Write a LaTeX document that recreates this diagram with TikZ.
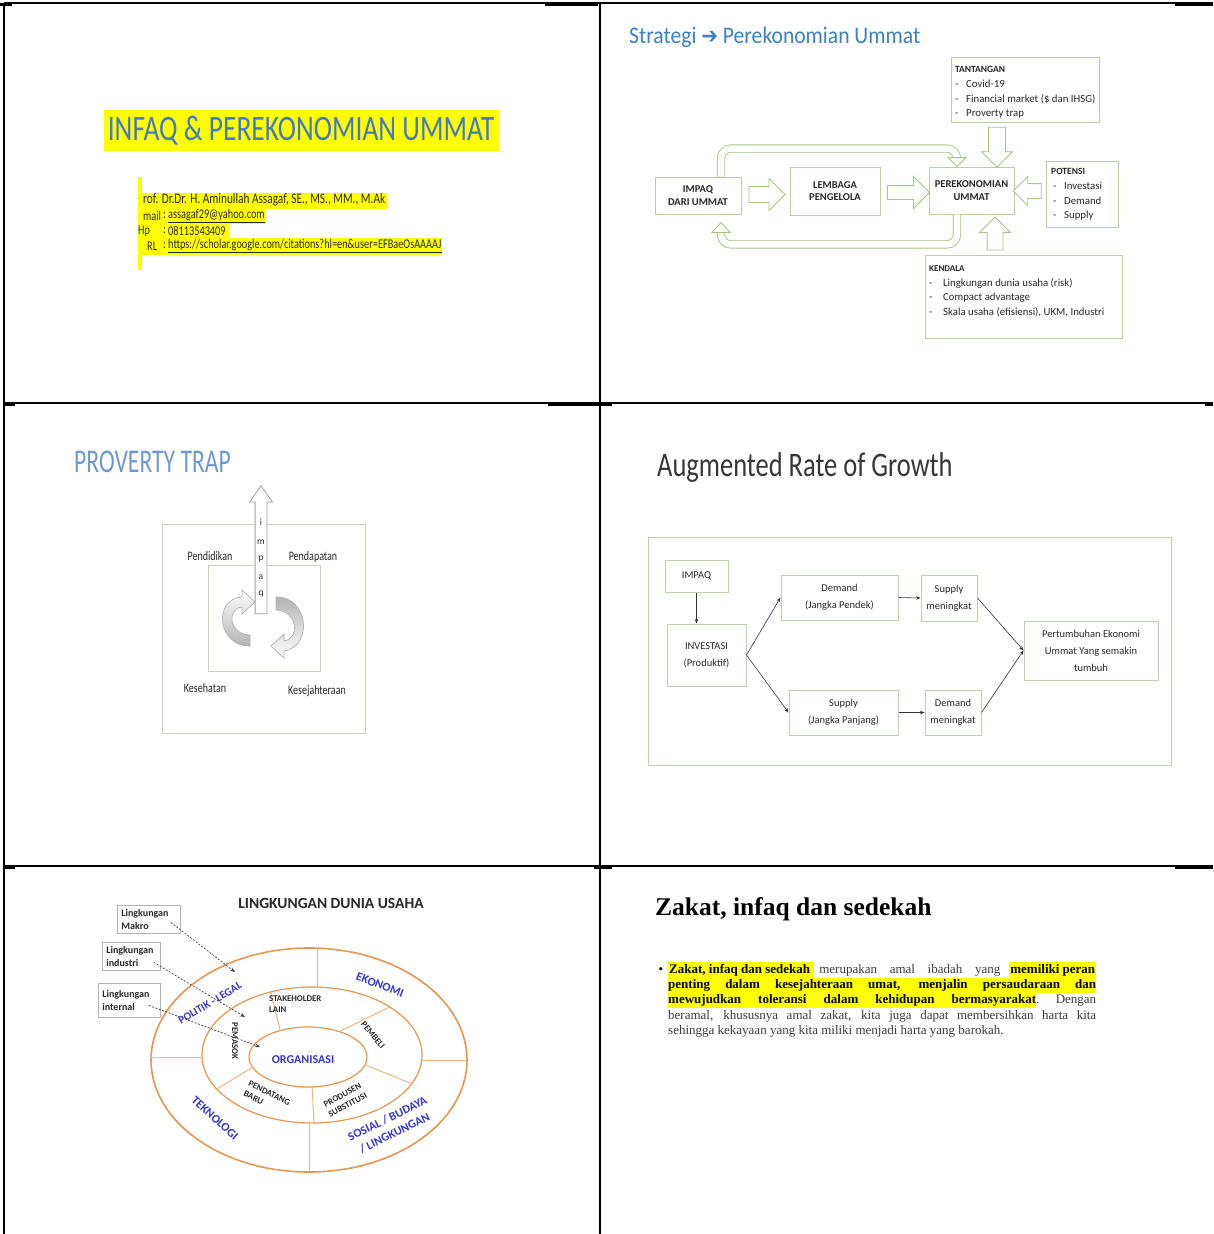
\documentclass[tikz,border=0pt]{standalone}
\usepackage{fontspec}
\setmainfont{Carlito}
\newfontfamily\tnr{Liberation Serif}
\newfontfamily\djv{DejaVu Sans}
\usetikzlibrary{shapes.arrows,arrows.meta,calc}
\definecolor{hly}{RGB}{255,255,0}
\definecolor{t1blue}{RGB}{70,120,195}
\definecolor{t2blue}{RGB}{62,128,196}
\definecolor{t3blue}{RGB}{112,152,208}
\definecolor{g2}{RGB}{185,208,165}
\definecolor{g2a}{RGB}{165,198,135}
\definecolor{g3}{RGB}{200,210,188}
\definecolor{g4}{RGB}{190,212,175}
\definecolor{orng}{RGB}{230,150,85}
\definecolor{orngl}{RGB}{236,185,140}
\definecolor{lblue}{RGB}{55,55,205}
\definecolor{txt}{RGB}{40,40,40}
\definecolor{txtsix}{RGB}{60,60,60}
\definecolor{dgray}{RGB}{55,55,55}
\newcommand\fs[2]{\fontsize{#1}{#2}\selectfont}
\newcommand\hlb[1]{{\setlength\fboxsep{1pt}\colorbox{hly}{\bfseries\color{black}\strut #1}}}
\begin{document}
\begin{tikzpicture}[x=1pt,y=-1pt,
  frame/.style={line width=1.5pt, black},
  sub/.style={font=\fs{10.3}{12}, inner sep=0pt, yscale=1.3, text=txt, anchor=west},
  gbox/.style={draw=g2, line width=0.9pt, fill=white, align=center, font=\fs{10.5}{12.5}\bfseries, text=txt, inner sep=1pt},
  barrow/.style={single arrow, draw=g2a, fill=white, line width=0.9pt, inner sep=0pt},
  band/.style={draw=g2a, double=white, double distance=6.5pt, line width=0.9pt, rounded corners=10pt},
  headtri/.style={draw=g2a, fill=white, line width=0.9pt},
  lst/.style={align=left, inner sep=0pt, font=\fs{10.8}{14.6}, text=txt, anchor=north west},
  p3box/.style={draw=g3, line width=1pt, anchor=north west},
  p3txt/.style={font=\fs{10}{12}, text=txt, yscale=1.3, inner sep=0pt},
  p4box/.style={draw=g4, line width=1pt, fill=white, align=center, font=\fs{10.5}{17}, text=txt, inner sep=1pt},
  p4arr/.style={-{Stealth[length=4.5pt,width=3.5pt]}, line width=0.6pt, black!80},
  bluelab/.style={font=\fs{12}{14}\bfseries, text=lblue, inner sep=0pt},
  blklab/.style={font=\fs{8.8}{11}\bfseries, text=txt, inner sep=0pt, align=center},
  lbox/.style={draw=gray!60, line width=0.8pt, fill=white, font=\fs{10}{13}\bfseries, text=txt, align=left, inner xsep=4pt, inner ysep=2pt, anchor=north west},
  darr/.style={dash pattern=on 2pt off 1.5pt, -{Stealth[length=5pt,width=4pt]}, line width=0.7pt, gray!50!black},
  ptxt/.style={font=\tnr\fs{13}{15}, inner sep=0pt, text=txtsix, anchor=base west}]
\useasboundingbox (0,0) rectangle (1213,1234);
\fill[white] (0,0) rectangle (1213,1234);

% ---------- table frame ----------
\draw[frame] (4,3) -- (1213,3);
\draw[frame] (4,403) -- (1213,403);
\draw[frame] (4,866) -- (1213,866);
\draw[frame] (4,3) -- (4,1234);
\draw[frame] (600,3) -- (600,1234);
\draw[line width=3pt] (545,4.5) -- (598,4.5) (1175,4.5) -- (1213,4.5) (0,4.5) -- (12,4.5);
\draw[line width=3pt] (4,404.5) -- (15,404.5) (548,404.5) -- (612,404.5) (1205,404.5) -- (1213,404.5);
\draw[line width=3pt] (4,867.5) -- (15,867.5) (594,867.5) -- (612,867.5) (1175,867.5) -- (1213,867.5);

% ---------- panel 1 ----------
\fill[hly] (104,110) rectangle (499,151);
\node[font=\fs{27.5}{30}, text=t1blue, yscale=1.3, inner sep=0pt] (t1) at (301,131) {INFAQ \& PEREKONOMIAN UMMAT};
\fill[hly] (138,177) rectangle (142,270);
\fill[hly] (141,193) rectangle (387,209);
\fill[hly] (141,209) rectangle (266,224);
\fill[hly] (141,224) rectangle (229,238);
\fill[hly] (141,238) rectangle (442,255);
\node[sub, font=\fs{11.3}{12}] (s1) at (143,200) {rof. Dr.Dr. H. Aminullah Assagaf, SE., MS., MM., M.Ak};
\node[sub] (s2a) at (143,216) {mail};
\node[sub] (s2b) at (163,216) {:};
\node[sub] (s2c) at (168,216) {\underline{assagaf29@yahoo.com}};
\node[sub] (s3a) at (138,231) {Hp};
\node[sub] (s3b) at (163,231) {:};
\node[sub] (s3c) at (168,231) {08113543409};
\node[sub] (s4a) at (147,246) {RL};
\node[sub] (s4b) at (163,246) {:};
\node[sub] (s4c) at (168,246) {\underline{https://scholar.google.com/citations?hl=en\&user=EFBaeOsAAAAJ}};

% ---------- panel 2 ----------
\node[font=\fs{21.6}{24}, text=t2blue, anchor=west, yscale=1.1, inner sep=0pt] (t2) at (629,37) {Strategi {\djv\fs{20}{20}➔} Perekonomian Ummat};
\node[gbox, minimum width=86pt, minimum height=37pt] (impaq) at (698,195.5) {IMPAQ\\DARI UMMAT};
\node[gbox, minimum width=90pt, minimum height=48pt] (lembaga) at (835,191) {LEMBAGA\\PENGELOLA};
\node[gbox, minimum width=85pt, minimum height=47pt] (perek) at (971.5,190.5) {PEREKONOMIAN\\UMMAT};
\node[draw=g2, line width=0.9pt, anchor=north west, minimum width=148pt, minimum height=65pt, inner sep=0pt] (tant) at (951,57) {};
\node[lst] (tantt) at (955,66.5) {{\fs{9.5}{14.6}\bfseries TANTANGAN}\\\makebox[11pt][l]{-}Covid-19\\\makebox[11pt][l]{-}Financial market (\$ dan IHSG)\\\makebox[11pt][l]{-}Proverty trap};
\node[draw=g2, line width=0.9pt, anchor=north west, minimum width=72pt, minimum height=66pt, inner sep=0pt] (pot) at (1046,161) {};
\node[lst] (pott) at (1051,168.5) {{\fs{9.5}{14.6}\bfseries POTENSI}\\\makebox[13pt][l]{\,-}Investasi\\\makebox[13pt][l]{\,-}Demand\\\makebox[13pt][l]{\,-}Supply};
\node[draw=g2, line width=0.9pt, anchor=north west, minimum width=197pt, minimum height=83pt, inner sep=0pt] (kend) at (925,255) {};
\node[lst] (kendt) at (929,265.5) {{\fs{9}{14.8}\bfseries KENDALA}\\\makebox[14pt][l]{-}Lingkungan dunia usaha (risk)\\\makebox[14pt][l]{-}Compact advantage\\\makebox[14pt][l]{-}Skala usaha (efisiensi), UKM, Industri};
% block arrows
\node[barrow, inner ysep=7.5pt, single arrow head extend=8pt, minimum height=36pt, minimum width=31pt] (a1) at (763,194.5) {};
\node[barrow, inner ysep=6.5pt, single arrow head extend=9pt, minimum height=42pt, minimum width=31pt] (a2) at (905,192.5) {};
\node[barrow, rotate=-90, inner ysep=8pt, single arrow head extend=7pt, minimum height=40pt, minimum width=30pt] (a3) at (997,143) {};
\node[barrow, rotate=180, inner ysep=7pt, single arrow head extend=7pt, minimum height=28pt, minimum width=28pt] (a4) at (1031,191) {};
\node[barrow, rotate=90, inner ysep=7.5pt, single arrow head extend=7.5pt, minimum height=33pt, minimum width=30pt] (a5) at (995,237.5) {};
% looping bands
\draw[band] ($(impaq.north)+(23,0)$) |- ($(perek.north)+(-14.5,-18)$) -- ($(perek.north)+(-14.5,-9)$);
\draw[headtri] ($(perek.north)+(-23.5,-9)$) -- ($(perek.north)+(-5.5,-9)$) -- ($(perek.north)+(-14.5,0)$) -- cycle;
\draw[band] ($(perek.south)+(-14.5,0)$) |- ($(impaq.south)+(23,30)$) -- ($(impaq.south)+(23,18)$);
\draw[headtri] ($(impaq.south)+(14,18)$) -- ($(impaq.south)+(32,18)$) -- ($(impaq.south)+(23,8)$) -- cycle;

% ---------- panel 3 ----------
\node[font=\fs{23.7}{26}, text=t3blue, anchor=west, yscale=1.4, inner sep=0pt] (t3) at (74,462) {PROVERTY TRAP};
\node[p3box, minimum width=203pt, minimum height=209pt] (outer3) at (162,524) {};
\node[p3box, minimum width=112pt, minimum height=106pt] (inner3) at (208,565) {};
\node[p3txt] (pend) at (210,556) {Pendidikan};
\node[p3txt] (penda) at (313,557) {Pendapatan};
\node[p3txt] (kes) at (205,688) {Kesehatan};
\node[p3txt] (kesj) at (317,691) {Kesejahteraan};
\path[draw=gray!60, line width=0.7pt, top color=white, bottom color=gray!60]
  (250,646) .. controls (218,647) and (212,599) .. (242,597) -- (242,590) -- (255,602) -- (242,614) -- (242,607)
  .. controls (227,609) and (228,634) .. (250,635) -- cycle;
\path[draw=gray!60, line width=0.7pt, top color=gray!60, bottom color=white]
  (276,597) .. controls (308,596) and (314,646) .. (284,651) -- (284,658) -- (271,646) -- (284,634) -- (284,641)
  .. controls (300,639) and (298,611) .. (276,610) -- cycle;
\node[single arrow, draw=gray!75, fill=white, line width=0.8pt, rotate=90, inner sep=0pt, inner ysep=5.5pt, single arrow head extend=5.5pt, single arrow tip angle=70, minimum height=128pt, minimum width=22pt] (up3) at (261,554) {};
\node[font=\fs{9.5}{10}, text=txt, inner sep=0pt] (li) at (261,522) {i};
\node[font=\fs{9.5}{10}, text=txt, inner sep=0pt] (lm) at (261,542) {m};
\node[font=\fs{9.5}{10}, text=txt, inner sep=0pt] (lp) at (261,559) {p};
\node[font=\fs{9.5}{10}, text=txt, inner sep=0pt] (la) at (261,577) {a};
\node[font=\fs{9.5}{10}, text=txt, inner sep=0pt] (lq) at (261,594) {q};

% ---------- panel 4 ----------
\node[font=\fs{26.5}{30}, text=dgray, anchor=west, yscale=1.3, inner sep=0pt] (t4) at (657,467) {Augmented Rate of Growth};
\node[draw=g4, line width=1pt, anchor=north west, minimum width=523pt, minimum height=228pt, inner sep=0pt] (o4) at (648,537) {};
\node[p4box, minimum width=63pt, minimum height=32pt] (imp4) at (696.5,576) {IMPAQ};
\node[p4box, minimum width=79pt, minimum height=62pt] (inv) at (706.5,655) {INVESTASI\\(Produktif)};
\node[p4box, minimum width=117pt, minimum height=45pt] (dem) at (839.5,597.5) {Demand\\(Jangka Pendek)};
\node[p4box, minimum width=56pt, minimum height=46pt] (supm) at (949,598) {Supply\\meningkat};
\node[p4box, minimum width=109pt, minimum height=45pt] (sup) at (843.5,712.5) {Supply\\(Jangka Panjang)};
\node[p4box, minimum width=56pt, minimum height=45pt] (demm) at (953,712.5) {Demand\\meningkat};
\node[p4box, minimum width=134pt, minimum height=59pt] (pert) at (1091,650.5) {Pertumbuhan Ekonomi\\Ummat Yang semakin\\tumbuh};
\draw[p4arr] (imp4.south) -- (imp4.south |- inv.north);
\draw[p4arr] (inv.east) -- (dem.west);
\draw[p4arr] (inv.east) -- (sup.west);
\draw[p4arr] (dem.east) -- (supm.west);
\draw[p4arr] (sup.east) -- (demm.west);
\draw[p4arr] (supm.east) -- (pert.west);
\draw[p4arr] (demm.east) -- (pert.west);

% ---------- panel 5 ----------
\node[font=\fs{15.5}{18}\bfseries, text=txt, inner sep=0pt] (t5) at (331,903) {LINGKUNGAN DUNIA USAHA};
\coordinate (co) at (309,1060);
\coordinate (cm) at (312,1055);
\coordinate (ci) at (308,1057);
\draw[orng, line width=1.6pt] (co) ellipse [x radius=158, y radius=112];
\draw[orng, line width=1.2pt] (cm) ellipse [x radius=110, y radius=68];
\draw[orng, line width=1.2pt] (ci) ellipse [x radius=59, y radius=30];
\begin{scope}[orngl, line width=1pt]
\draw (317,948.1) -- (317,987.1);
\draw (309,1123) -- (309,1172);
\draw (151,1057) -- (202,1057);
\draw (421.7,1060) -- (467,1060);
\draw ($(ci)+(-118:59 and 30)$) -- ($(cm)+(-112:110 and 68)$);
\draw ($(ci)+(-58:59 and 30)$) -- ($(cm)+(-45:110 and 68)$);
\draw ($(ci)+(15:59 and 30)$) -- ($(cm)+(25:110 and 68)$);
\draw ($(ci)+(86:59 and 30)$) -- ($(cm)+(89:110 and 68)$);
\draw ($(ci)+(160:59 and 30)$) -- ($(cm)+(150:110 and 68)$);
\end{scope}
\node[bluelab, rotate=31, font=\fs{11}{13}\bfseries] (pol) at (210,1003) {POLITIK - LEGAL};
\node[bluelab, rotate=-21] (eko) at (380,985) {EKONOMI};
\node[bluelab, rotate=-42] (tek) at (215,1118) {TEKNOLOGI};
\node[bluelab, rotate=26, align=center, font=\fs{12}{16}\bfseries] (sos) at (391,1126) {SOSIAL / BUDAYA\\/ LINGKUNGAN};
\node[bluelab] (org) at (303,1060) {ORGANISASI};
\node[blklab, align=left, anchor=north west] (stk) at (269,996) {STAKEHOLDER\\LAIN};
\node[blklab, rotate=-50] (pemb) at (373,1035) {PEMBELI};
\node[blklab, rotate=-90] (pems) at (235,1041) {PEMASOK};
\node[blklab, rotate=-26, align=left] (pdt) at (267,1098) {PENDATANG\\BARU};
\node[blklab, rotate=28] (prd) at (345,1100) {PRODUSEN\\SUBSTITUSI};
\node[lbox, text width=55pt, minimum height=28pt] (mak) at (117,905) {Lingkungan\\Makro};
\node[lbox, text width=50pt, minimum height=28pt] (ind) at (102,942) {Lingkungan\\industri};
\node[lbox, text width=54pt, minimum height=34pt] (int) at (98,983) {Lingkungan\\internal};
\coordinate (pmak) at (235,972);
\coordinate (pind) at (245,1017);
\coordinate (pint) at (260,1047);
\draw[darr] ($(mak.east)+(-10,3)$) -- (pmak);
\draw[darr] ($(ind.east)+(-7,6)$) -- (pind);
\draw[darr] ($(int.east)+(-12,5)$) -- (pint);

% ---------- panel 6 ----------
\node[font=\tnr\fs{25.5}{30}\bfseries, text=black, anchor=base west, inner sep=0pt] (t6) at (655,915) {Zakat, infaq dan sedekah};
\node[font=\tnr\fs{13}{15}, text=black, inner sep=0pt, anchor=base] (bul) at (661,973) {•};
\node[ptxt] (l1) at (668,973) {\makebox[428pt][s]{\hlb{Zakat, infaq dan sedekah\ }\hspace{5pt}merupakan amal ibadah yang\hspace{9pt}\hlb{memiliki peran}}};
\node[ptxt] (l2) at (668,988) {{\setlength\fboxsep{0pt}\colorbox{hly}{\color{black}\bfseries\strut\makebox[428pt][s]{penting dalam kesejahteraan umat, menjalin persaudaraan dan}}}};
\node[ptxt] (l3) at (668,1003) {\makebox[428pt][s]{{\setlength\fboxsep{0pt}\colorbox{hly}{\color{black}\bfseries\strut\makebox[368pt][s]{mewujudkan toleransi dalam kehidupan bermasyarakat}}}. Dengan}};
\node[ptxt] (l4) at (668,1019) {\makebox[428pt][s]{beramal, khususnya amal zakat, kita juga dapat membersihkan harta kita}};
\node[ptxt] (l5) at (668,1034) {sehingga kekayaan yang kita miliki menjadi harta yang barokah.};
\end{tikzpicture}
\end{document}
